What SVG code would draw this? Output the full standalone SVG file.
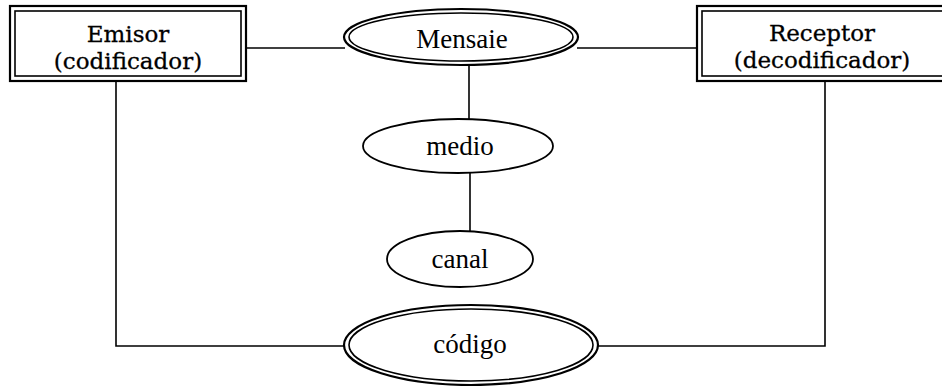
<svg xmlns="http://www.w3.org/2000/svg" width="942" height="386" viewBox="0 0 942 386">
  <style>
    .line { fill: none; stroke: #000; stroke-width: 1.6; }
    .outer { fill: #fff; stroke: #000; stroke-width: 2.2; }
    .inner { fill: none; stroke: #000; stroke-width: 1.6; }
    .single { fill: #fff; stroke: #000; stroke-width: 1.8; }
    .box-text { font-family: "DejaVu Serif", "Liberation Serif", serif; font-size: 23px; fill: #000; stroke: #000; stroke-width: 0.3; text-anchor: middle; }
    .oval-text { font-family: "Liberation Serif", "Times New Roman", serif; font-size: 27px; fill: #000; text-anchor: middle; }
  </style>
  <rect width="942" height="386" fill="#fff"/>

  <!-- connectors -->
  <g id="connectors">
    <line class="line" x1="246" y1="48" x2="345" y2="48"/>
    <line class="line" x1="577" y1="48" x2="697" y2="48"/>
    <line class="line" x1="469" y1="65" x2="469" y2="119"/>
    <line class="line" x1="470" y1="173" x2="470" y2="232"/>
    <polyline class="line" points="116,81 116,346 345,346"/>
    <polyline class="line" points="825,81 825,346 597,346"/>
  </g>

  <!-- Emisor -->
  <g id="emisor">
    <rect class="outer" x="10" y="6" width="236" height="75"/>
    <rect class="inner" x="15" y="11" width="226" height="65"/>
    <text class="box-text" x="128" y="42">Emisor</text>
    <text class="box-text" x="128" y="69">(codificador)</text>
  </g>

  <!-- Mensaje -->
  <g id="mensaje">
    <ellipse class="outer" cx="461" cy="37" rx="117" ry="28"/>
    <ellipse class="inner" cx="461" cy="37" rx="112" ry="24"/>
    <text class="oval-text" x="462" y="48">Mensaie</text>
  </g>

  <!-- Receptor -->
  <g id="receptor">
    <rect class="outer" x="697" y="6" width="260" height="75"/>
    <rect class="inner" x="702" y="11" width="250" height="65"/>
    <text class="box-text" x="822" y="41">Receptor</text>
    <text class="box-text" x="822" y="68">(decodificador)</text>
  </g>

  <!-- medio -->
  <g id="medio">
    <ellipse class="single" cx="458" cy="146" rx="95" ry="27"/>
    <text class="oval-text" x="460" y="155">medio</text>
  </g>

  <!-- canal -->
  <g id="canal">
    <ellipse class="single" cx="460" cy="259" rx="73" ry="28"/>
    <text class="oval-text" x="460" y="268">canal</text>
  </g>

  <!-- código -->
  <g id="codigo">
    <ellipse class="outer" cx="471" cy="345" rx="127" ry="40"/>
    <ellipse class="inner" cx="471" cy="345" rx="122" ry="36"/>
    <text class="oval-text" x="470" y="353">código</text>
  </g>
</svg>
